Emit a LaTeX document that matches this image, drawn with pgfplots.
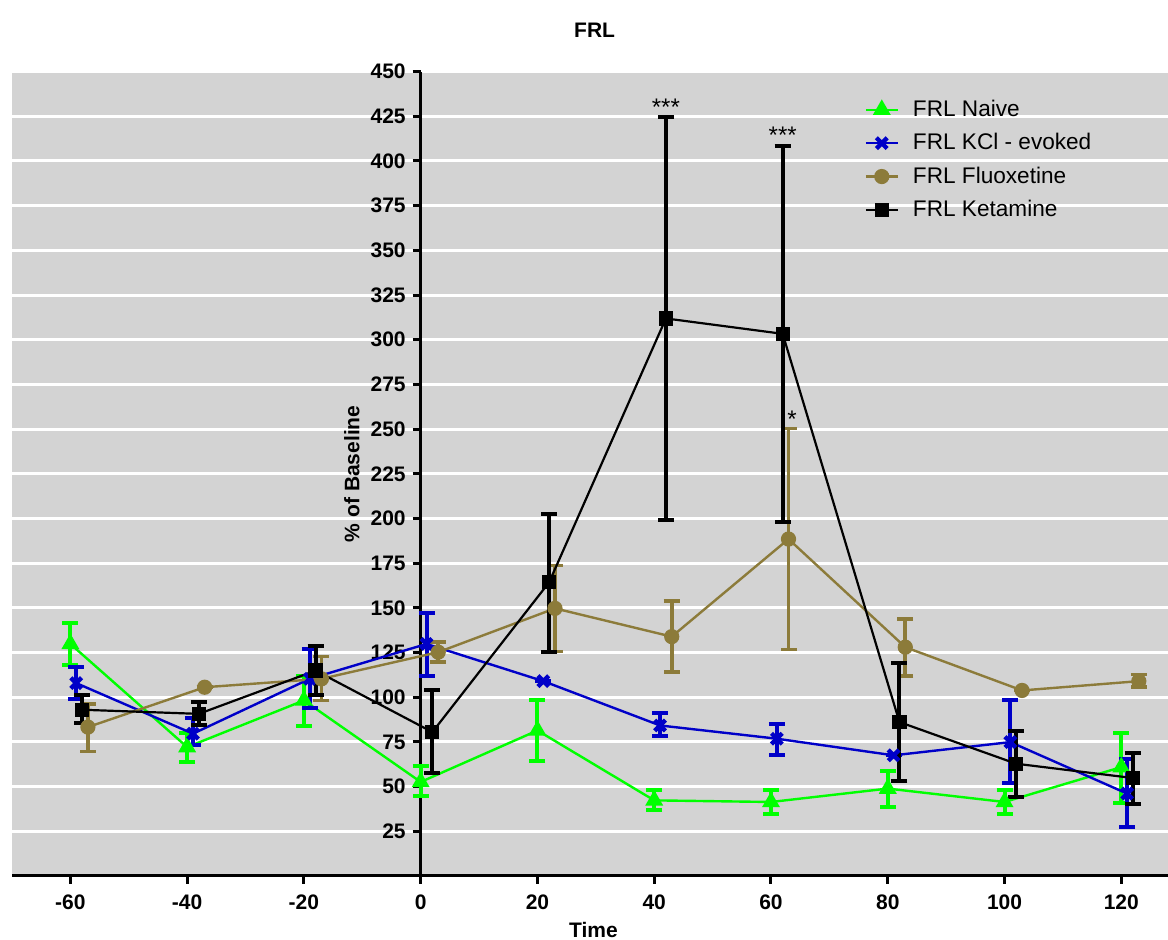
\documentclass[border=0pt]{standalone}
\usepackage{fontspec}
\setmainfont{Liberation Sans}
\usepackage{pgfplots}
\pgfplotsset{compat=1.18}
\usepackage{pgfplotstable}
\definecolor{bggray}{RGB}{211,211,211}
\definecolor{cgreen}{RGB}{0,255,0}
\definecolor{cblue}{RGB}{0,0,200}
\definecolor{colive}{RGB}{140,123,58}

\pgfplotstableread{
x y hi lo
-60 129.8 141.3 118.1
-40 72.1 80.1 63.9
-20 98.2 112 83.7
0 52.6 61.5 45
20 81.4 98.7 64.5
40 42.3 47.9 37.1
60 41.4 47.9 34.9
80 48.9 58.7 38.6
100 41.4 48.3 34.9
120 60.9 79.9 41
}\naive
\pgfplotstableread{
x y hi lo
-59 107.9 116.8 99.1
-39 79.6 88.5 73
-19 110.3 127 94.1
1 129.8 147.2 111.8
21 109 109 109
41 84.2 91.1 78.1
61 76.8 85.2 67.9
81 67.5 67.5 67.5
101 74.9 98.2 52.2
121 46.1 65.6 27.4
}\kcl
\pgfplotstableread{
x y hi lo
-57 83.3 96.3 69.7
-37 105.6 105.6 105.6
-17 110.3 122.8 98.2
3 125.2 130.8 119.6
23 149.7 173.6 125.5
43 133.9 154 114
63 188.5 250.3 126.7
83 128 143.8 111.8
103 103.8 103.8 103.8
123 109 112.7 105.6
}\fluox
\pgfplotstableread{
x y hi lo
-58 93 101 85.7
-38 90.7 97.2 84.2
-18 114.9 128.9 101.4
2 80.5 103.8 57.8
22 164.3 202.4 125.2
42 311.9 424.5 199.3
62 303.3 408.5 197.8
82 86.1 119.2 53.1
102 62.8 80.9 44.2
122 54.8 69 40.5
}\ket

\begin{document}
\begin{tikzpicture}
\useasboundingbox (-6pt,-32pt) rectangle (578pt,438pt);
\begin{axis}[
  at={(0,0)}, anchor=south west, scale only axis,
  width=578pt, height=402.2pt,
  xmin=-70, xmax=128, ymin=0, ymax=450,
  axis x line*=bottom, axis y line*=middle,
  axis line style={line width=1.5pt, black},
  axis background/.style={fill=bggray},
  tick align=outside, major tick length=4pt,
  tick style={line width=1.5pt, black},
  xtick={-60,-40,-20,0,20,40,60,80,100,120},
  xticklabels={-60,-40,-20,0,20,40,60,80,100,120},
  ytick={25,50,75,100,125,150,175,200,225,250,275,300,325,350,375,400,425,450},
  yticklabels={25,50,75,100,125,150,175,200,225,250,275,300,325,350,375,400,425,450},
  ticklabel style={font=\fontsize{10.5}{12}\selectfont\bfseries},
  xticklabel style={yshift=-2pt},
  ymajorgrids, major grid style={white, line width=1.5pt},
  title={FRL},
  title style={at={(axis description cs:0.504,1)}, anchor=center, yshift=14.9pt, font=\fontsize{10.5}{12}\selectfont\bfseries},
  xlabel={Time},
  xlabel style={at={(axis description cs:0.503,0)}, anchor=center, yshift=-27pt, font=\fontsize{10.5}{12}\selectfont\bfseries},
  ylabel={\% of Baseline},
  ylabel style={at={(axis description cs:0.294,0.5)}, anchor=center, rotate=0, font=\fontsize{10.5}{12}\selectfont\bfseries},
  legend style={draw=none, fill=none, at={(axis description cs:0.732,0.975)}, anchor=north west,
    font=\fontsize{11.3}{13.6}\selectfont, row sep=3pt,
    /tikz/every odd column/.append style={column sep=5pt}},
  legend image code/.code={\draw[mark repeat=2,mark phase=2] plot coordinates {(0pt,0pt)(8pt,0pt)(16pt,0pt)};},
  legend cell align=left,
  error bars/y dir=both, error bars/y explicit,
  error bars/error mark=|,
]
\addplot[color=cgreen, line width=1.2pt, mark=triangle*, mark size=4pt,
  error bars/error bar style={line width=2pt},
  error bars/error mark options={line width=2pt, mark size=4pt}]
  table[x=x, y=y, y error plus expr=\thisrow{hi}-\thisrow{y}, y error minus expr=\thisrow{y}-\thisrow{lo}] {\naive};
\addlegendentry{FRL Naive}
\addplot[color=cblue, line width=1.2pt, mark=x, mark size=3.8pt, mark options={line width=2.2pt},
  error bars/error bar style={line width=2pt},
  error bars/error mark options={line width=2pt, mark size=4pt}]
  table[x=x, y=y, y error plus expr=\thisrow{hi}-\thisrow{y}, y error minus expr=\thisrow{y}-\thisrow{lo}] {\kcl};
\addlegendentry{FRL KCl - evoked}
\addplot[color=colive, line width=1.2pt, mark=*, mark size=3.2pt,
  error bars/error bar style={line width=1.8pt},
  error bars/error mark options={line width=1.8pt, mark size=4pt}]
  table[x=x, y=y, y error plus expr=\thisrow{hi}-\thisrow{y}, y error minus expr=\thisrow{y}-\thisrow{lo}] {\fluox};
\addlegendentry{FRL Fluoxetine}
\addplot[color=black, line width=1.1pt, mark=square*, mark size=3pt,
  error bars/error bar style={line width=2pt},
  error bars/error mark options={line width=2pt, mark size=4pt}]
  table[x=x, y=y, y error plus expr=\thisrow{hi}-\thisrow{y}, y error minus expr=\thisrow{y}-\thisrow{lo}] {\ket};
\addlegendentry{FRL Ketamine}
\node[anchor=base, font=\fontsize{12}{14}\selectfont] at (axis cs:42,425.7) {***};
\node[anchor=base, font=\fontsize{12}{14}\selectfont] at (axis cs:62,409.5) {***};
\node[anchor=base, font=\fontsize{12}{14}\selectfont] at (axis cs:63.6,250.9) {*};
\end{axis}
\end{tikzpicture}
\end{document}
